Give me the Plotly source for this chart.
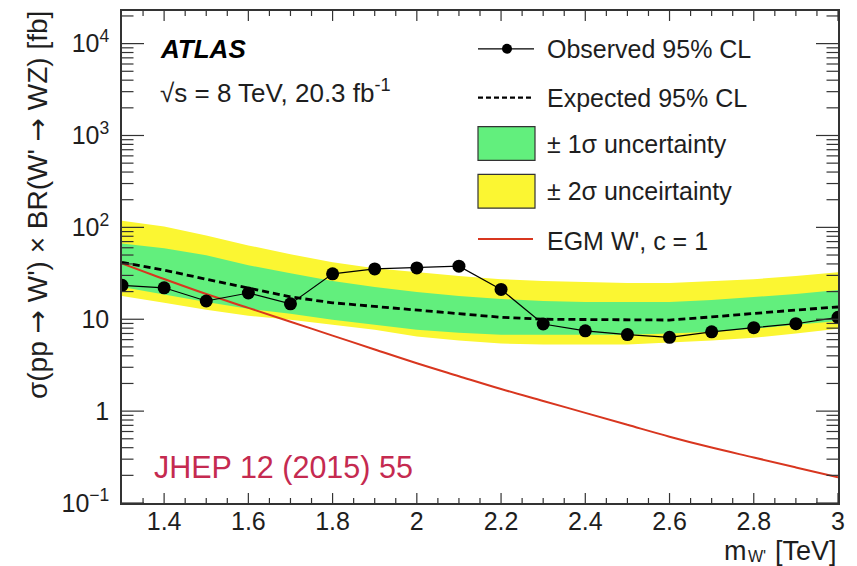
import math
import plotly.graph_objects as go

# W' mass points [TeV]
mass = [1.3, 1.4, 1.5, 1.6, 1.7, 1.8, 1.9, 2.0, 2.1, 2.2,
        2.3, 2.4, 2.5, 2.6, 2.7, 2.8, 2.9, 3.0]

# Observed 95% CL upper limit [fb]
observed = [23.4, 22.0, 15.8, 19.3, 14.7, 31.2, 35.3, 36.2, 37.8, 21.1,
            8.88, 7.48, 6.81, 6.36, 7.30, 8.09, 8.94, 10.5]

# Expected 95% CL upper limit [fb]
expected = [41.7, 34.2, 27.3, 21.9, 17.5, 15.1, 13.8, 12.7, 11.5, 10.5,
            10.0, 9.9, 9.8, 9.8, 10.6, 11.6, 12.6, 13.6]

# +/- 1 sigma band edges [fb]
sig1_up = [66.9, 59.1, 49.6, 38.7, 31.7, 26.0, 22.4, 19.8, 17.9, 16.6,
           15.8, 15.4, 15.4, 15.4, 16.2, 17.5, 18.8, 20.8]
sig1_dn = [22.4, 18.4, 15.4, 13.0, 11.5, 9.9, 8.7, 7.7, 7.15, 6.8,
           6.8, 6.8, 6.8, 6.98, 7.33, 7.9, 8.7, 9.6]

# +/- 2 sigma band edges [fb]
sig2_up = [118.4, 102.0, 81.5, 63.6, 50.9, 41.7, 35.9, 32.5, 29.5, 27.3,
           26.0, 25.4, 24.8, 24.8, 26.0, 27.3, 29.5, 32.5]
sig2_dn = [17.9, 15.1, 12.7, 10.9, 9.9, 8.7, 7.7, 6.5, 5.86, 5.44,
           5.31, 5.31, 5.31, 5.58, 5.86, 6.3, 6.98, 7.9]

# EGM W' (c = 1) theory prediction [fb]
egm = [40.6, 27.4, 18.8, 13.3, 9.4, 6.64, 4.69, 3.32, 2.40, 1.74,
       1.29, 0.957, 0.71, 0.527, 0.401, 0.313, 0.244, 0.190]

y_tickvals = [0.1, 1, 10, 100, 1000, 10000]
y_ticktext = ["10<sup>\u22121</sup>", "1", "10", "10<sup>2</sup>",
              "10<sup>3</sup>", "10<sup>4</sup>"]
x_tickvals = [1.4, 1.6, 1.8, 2.0, 2.2, 2.4, 2.6, 2.8, 3.0]
x_ticktext = ["1.4", "1.6", "1.8", "2", "2.2", "2.4", "2.6", "2.8", "3"]

GREEN = "#62ef7d"
YELLOW = "#fbf632"
RED = "#d8361f"
TXT = "#1e1e1e"
AXC = "#333333"
FONT = "Liberation Sans, Arial, sans-serif"

XMIN, XMAX = 1.3, 3.0
YMIN, YMAX = -1.0, 4.355  # log10 range

fig = go.Figure()

# 2 sigma band
fig.add_trace(go.Scatter(
    x=mass + mass[::-1], y=sig2_up + sig2_dn[::-1],
    fill="toself", fillcolor=YELLOW, line=dict(width=0),
    mode="lines", hoverinfo="skip", showlegend=False))
# 1 sigma band
fig.add_trace(go.Scatter(
    x=mass + mass[::-1], y=sig1_up + sig1_dn[::-1],
    fill="toself", fillcolor=GREEN, line=dict(width=0),
    mode="lines", hoverinfo="skip", showlegend=False))
# theory curve
fig.add_trace(go.Scatter(
    x=mass, y=egm, mode="lines", line=dict(color=RED, width=2),
    line_shape="spline", showlegend=False))
# expected limit
fig.add_trace(go.Scatter(
    x=mass, y=expected, mode="lines",
    line=dict(color="black", width=2.8, dash="7px,4px"), showlegend=False))
# observed limit
fig.add_trace(go.Scatter(
    x=mass, y=observed, mode="lines+markers",
    line=dict(color="black", width=1.2),
    marker=dict(color="black", size=13), showlegend=False))

# ---- frame geometry (pixels) ----
W, H = 857, 566
L, R, T, B = 122, 838, 9, 503


def px(xp):
    return (xp - L) / (R - L)


def py(yp):
    return (B - yp) / (B - T)


def yfrac(v):
    return (math.log10(v) - YMIN) / (YMAX - YMIN)


shapes = []
annotations = []

# ---- tick marks on all four sides ----
tick = dict(color=AXC, width=1.2)
# y axis: decades long, 2..9 short
y_major = y_tickvals
y_minor = [k * 10 ** d for d in range(-1, 5) for k in range(2, 10)]
y_minor = [v for v in y_minor if math.log10(v) < YMAX]
for vals, ln in ((y_major, 22), (y_minor, 11.5)):
    dx = ln / (R - L)
    for v in vals:
        f = yfrac(v)
        shapes.append(dict(type="line", xref="paper", yref="paper",
                           x0=0, x1=dx, y0=f, y1=f, line=tick))
        shapes.append(dict(type="line", xref="paper", yref="paper",
                           x0=1, x1=1 - dx, y0=f, y1=f, line=tick))
# x axis: every 0.2 long, every 0.05 short
x_all = [round(XMIN + 0.05 * i, 2) for i in range(1, 35)]
for v in x_all:
    major = abs(round(v * 10) - v * 10) < 1e-6 and round(v * 10) % 2 == 0
    ln = 10 if major else 5
    dy = ln / (B - T)
    f = (v - XMIN) / (XMAX - XMIN)
    shapes.append(dict(type="line", xref="paper", yref="paper",
                       x0=f, x1=f, y0=0, y1=dy, line=tick))
    shapes.append(dict(type="line", xref="paper", yref="paper",
                       x0=f, x1=f, y0=1, y1=1 - dy, line=tick))

# ---- legend drawn in paper coordinates ----
shapes.append(dict(type="line", xref="paper", yref="paper",
                   x0=px(478), x1=px(534), y0=py(47), y1=py(47),
                   line=dict(color="black", width=1.2)))
shapes.append(dict(type="circle", xref="paper", yref="paper",
                   x0=px(502), x1=px(512), y0=py(52), y1=py(42),
                   fillcolor="black", line=dict(color="black", width=0)))
shapes.append(dict(type="line", xref="paper", yref="paper",
                   x0=px(478), x1=px(532), y0=py(96), y1=py(96),
                   line=dict(color="black", width=2.4, dash="5px,3px")))
shapes.append(dict(type="rect", xref="paper", yref="paper",
                   x0=px(478), x1=px(535), y0=py(159), y1=py(125),
                   fillcolor=GREEN, line=dict(color=AXC, width=1.2)))
shapes.append(dict(type="rect", xref="paper", yref="paper",
                   x0=px(478), x1=px(535), y0=py(207), y1=py(173),
                   fillcolor=YELLOW, line=dict(color=AXC, width=1.2)))
shapes.append(dict(type="line", xref="paper", yref="paper",
                   x0=px(478), x1=px(533), y0=py(238), y1=py(238),
                   line=dict(color=RED, width=2)))

legend_rows = [
    ("Observed 95% CL", 47),
    ("Expected 95% CL", 96),
    ("\u00b1 1\u03c3 uncertainty", 143),
    ("\u00b1 2\u03c3 unceirtainty", 190),
    ("EGM W', c = 1", 240),
]
for text, yy in legend_rows:
    annotations.append(dict(text=text, xref="paper", yref="paper",
                            x=px(545), y=py(yy), xanchor="left",
                            yanchor="middle", showarrow=False,
                            font=dict(family=FONT, size=25, color=TXT)))

# experiment labels
annotations.append(dict(text="<b><i>ATLAS</i></b>", xref="paper", yref="paper",
                        x=px(158), y=py(47), xanchor="left", yanchor="middle",
                        showarrow=False,
                        font=dict(family=FONT, size=26, color="black")))
annotations.append(dict(text="\u221as = 8 TeV, 20.3 fb<sup>-1</sup>",
                        xref="paper", yref="paper",
                        x=px(158), y=py(90), xanchor="left", yanchor="middle",
                        showarrow=False,
                        font=dict(family=FONT, size=26, color=TXT)))
annotations.append(dict(text="JHEP 12 (2015) 55", xref="paper", yref="paper",
                        x=px(152), y=py(467), xanchor="left", yanchor="middle",
                        showarrow=False,
                        font=dict(family=FONT, size=30.5, color="#c52a50")))

# y axis title
ARROW = "<span style='font-family:DejaVu Sans'>\u2192</span>"
annotations.append(dict(text=f"\u03c3(pp {ARROW} W') \u00d7 BR(W' {ARROW} WZ) [fb]",
                        xref="paper", yref="paper", textangle=-90,
                        x=px(37), y=py(7), xanchor="center", yanchor="top",
                        showarrow=False,
                        font=dict(family=FONT, size=28, color=TXT)))

# x axis title: m, subscript W', unit
annotations.append(dict(text="m", xref="paper", yref="paper",
                        x=px(722), y=py(551), xanchor="left",
                        yanchor="middle", showarrow=False,
                        font=dict(family=FONT, size=27, color=TXT)))
annotations.append(dict(text="W'", xref="paper", yref="paper",
                        x=px(746), y=py(557), xanchor="left",
                        yanchor="middle", showarrow=False,
                        font=dict(family=FONT, size=16, color=TXT)))
annotations.append(dict(text="[TeV]", xref="paper", yref="paper",
                        x=px(839), y=py(551), xanchor="right",
                        yanchor="middle", showarrow=False,
                        font=dict(family=FONT, size=27, color=TXT)))

fig.update_layout(
    width=W, height=H,
    margin=dict(l=L, r=W - R, t=T, b=H - B),
    paper_bgcolor="white", plot_bgcolor="white",
    showlegend=False,
    shapes=shapes, annotations=annotations,
    font=dict(family=FONT, color=TXT),
    xaxis=dict(
        range=[XMIN, XMAX], tickmode="array",
        tickvals=x_tickvals, ticktext=x_ticktext, ticks="",
        showline=True, linecolor=AXC, linewidth=1.5, mirror=True,
        showgrid=False, zeroline=False, ticklabelstandoff=-5,
        tickfont=dict(family=FONT, size=25, color=TXT),
    ),
    yaxis=dict(
        type="log", range=[YMIN, YMAX], tickmode="array",
        tickvals=y_tickvals, ticktext=y_ticktext, ticks="",
        showline=True, linecolor=AXC, linewidth=1.5, mirror=True,
        showgrid=False, zeroline=False, ticklabelstandoff=6,
        tickfont=dict(family=FONT, size=25, color=TXT),
    ),
)

fig.write_html("out.html")
